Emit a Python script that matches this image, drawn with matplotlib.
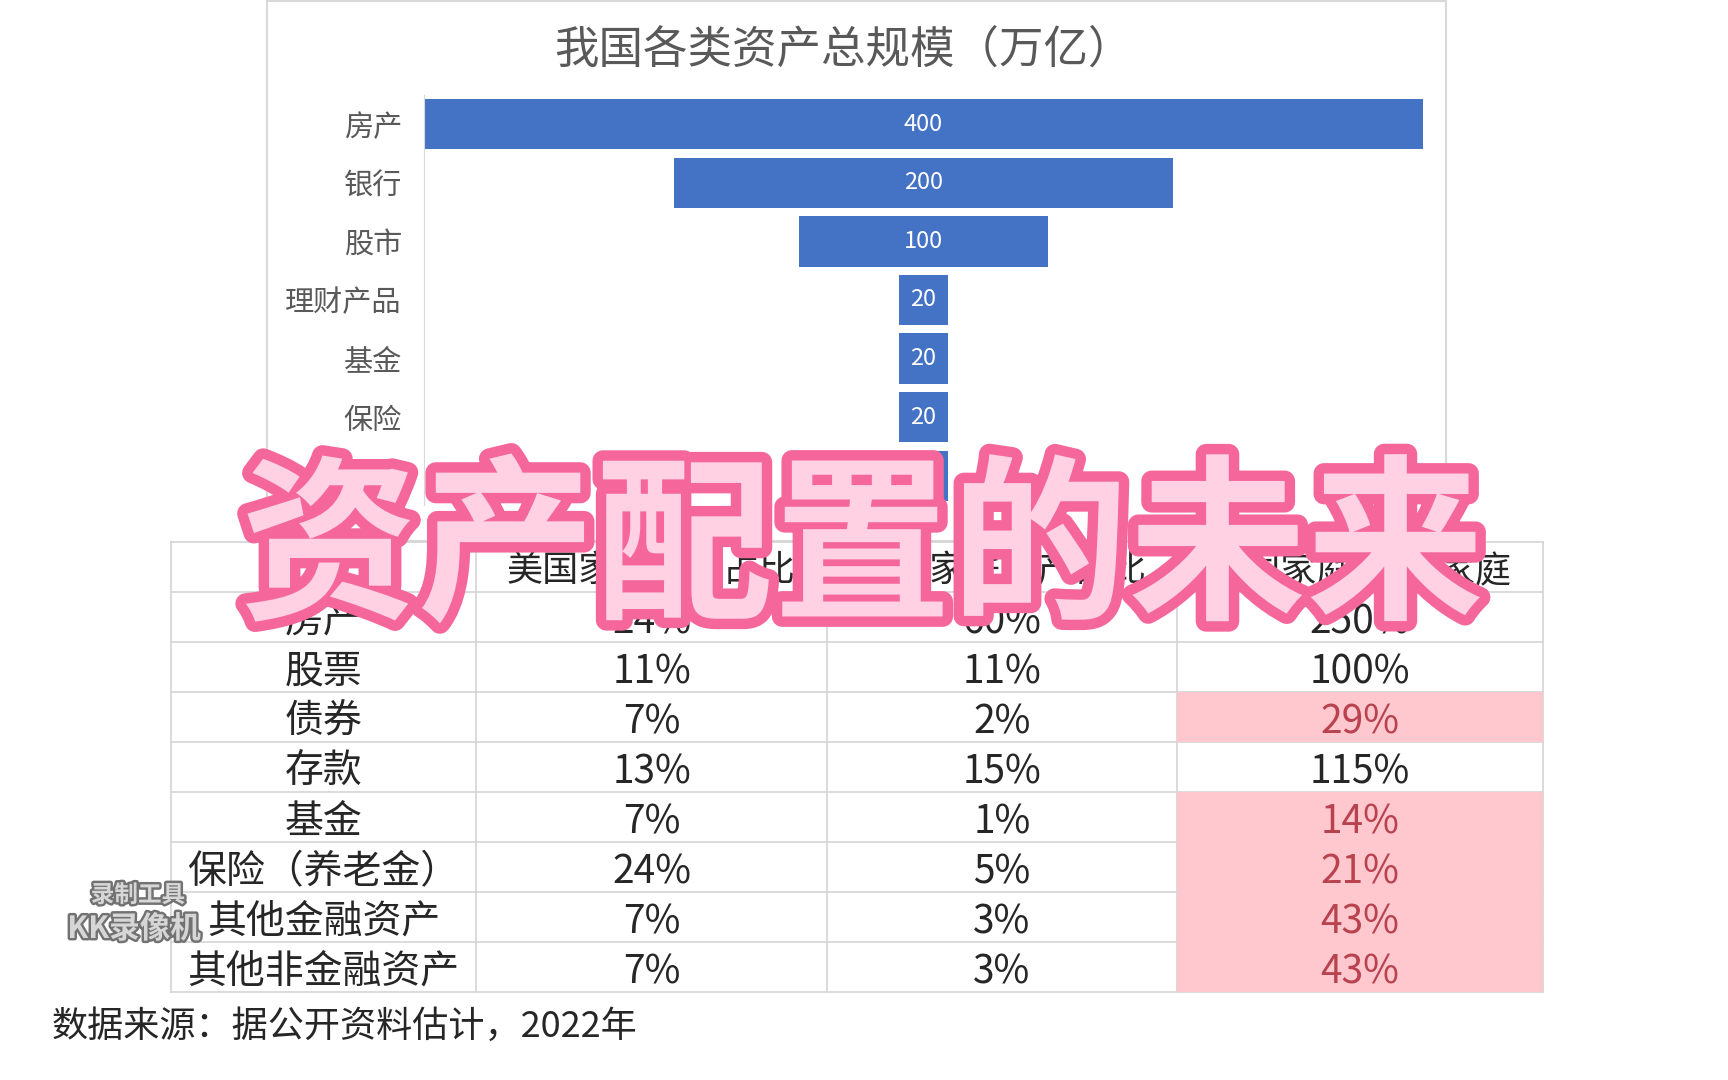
import matplotlib
matplotlib.use('Agg')
import matplotlib.pyplot as plt
import matplotlib.patheffects as pe
from matplotlib.patches import Rectangle

plt.rcParams['font.family'] = ['Noto Sans CJK SC', 'DejaVu Sans']

# 漏斗图数据（万亿）
funnel_cats = ['房产', '银行', '股市', '理财产品', '基金', '保险', '信托']
funnel_vals = [400, 200, 100, 20, 20, 20, 20]

# 表格数据
table_header = ['', '美国家庭资产占比', '中国家庭资产占比', '中国家庭/美国家庭']
row_names = ['房产', '股票', '债券', '存款', '基金', '保险（养老金）', '其他金融资产', '其他非金融资产']
us_share = ['24%', '11%', '7%', '13%', '7%', '24%', '7%', '7%']
cn_share = ['60%', '11%', '2%', '15%', '1%', '5%', '3%', '3%']
cn_vs_us = ['250%', '100%', '29%', '115%', '14%', '21%', '43%', '43%']
highlight = [False, False, True, False, True, True, True, True]

W, H = 1728, 1080


def px(x0, y0, x1, y1):
    # 像素坐标 -> figure 坐标
    return [x0 / W, 1 - y1 / H, (x1 - x0) / W, (y1 - y0) / H]


fig = plt.figure(figsize=(W / 100, H / 100), dpi=100, facecolor='white')

# ---- 漏斗图 ----
ax = fig.add_axes(px(424, 95, 1423, 505))
ax.set_xlim(-200, 200)
ax.set_ylim(len(funnel_cats) - 0.5, -0.5)
ypos = list(range(len(funnel_cats)))
bars = ax.barh(ypos, funnel_vals, left=[-v / 2 for v in funnel_vals],
               height=0.86, color='#4472c4')
ax.bar_label(bars, labels=[str(v) for v in funnel_vals], label_type='center',
             color='white', fontsize=17)
ax.set_yticks(ypos)
ax.set_yticklabels(funnel_cats, fontsize=21, color='#595959')
ax.tick_params(axis='y', length=0, pad=16)
ax.set_xticks([])
for s in ['top', 'right', 'bottom']:
    ax.spines[s].set_visible(False)
ax.spines['left'].set_color('#d9d9d9')
ax.patch.set_alpha(0)

# ---- 像素坐标覆盖层 ----
ov = fig.add_axes([0, 0, 1, 1], zorder=5)
ov.set_xlim(0, W)
ov.set_ylim(H, 0)
ov.axis('off')
ov.patch.set_alpha(0)

# 图表外框和标题
ov.add_patch(Rectangle((267, 1), 1179, 540, fc='none', ec='#d9d9d9', lw=1.5))
ov.text(843, 50, '我国各类资产总规模（万亿）', fontsize=32, color='#595959',
        ha='center', va='center')

# 表格
col_x = [171, 476, 827, 1177, 1543]
top, row_h = 542, 50
n_rows = len(row_names) + 1
bottom = top + n_rows * row_h
ov.add_patch(Rectangle((col_x[0], top), col_x[-1] - col_x[0], bottom - top,
                       fc='white', ec='none', zorder=1))
for i in range(n_rows + 1):
    y = top + i * row_h
    ov.plot([col_x[0], col_x[-1]], [y, y], color='#d4d4d4', lw=1.2, zorder=2)
for x in col_x:
    ov.plot([x, x], [top, bottom], color='#d4d4d4', lw=1.2, zorder=2)

for j, h in enumerate(table_header):
    cx = (col_x[j] + col_x[j + 1]) / 2
    ov.text(cx, top + row_h / 2 + 4, h, fontsize=26, color='#262626',
            ha='center', va='center', zorder=4)

for i, name in enumerate(row_names):
    y0 = top + (i + 1) * row_h
    cy = y0 + row_h / 2 + 5
    vals = [name, us_share[i], cn_share[i], cn_vs_us[i]]
    for j, v in enumerate(vals):
        cx = (col_x[j] + col_x[j + 1]) / 2
        color = '#262626'
        if j == 3 and highlight[i]:
            ov.add_patch(Rectangle((col_x[3], y0), col_x[4] - col_x[3], row_h,
                                   fc='#ffc7ce', ec='none', zorder=3))
            color = '#b8424e'
        ov.text(cx, cy, v, fontsize=28, color=color, ha='center', va='center', zorder=4)

# 数据来源
ov.text(52, 1027, '数据来源：据公开资料估计，2022年', fontsize=26, color='#262626',
        ha='left', va='center')

# 录屏水印
wm_fx = [pe.withStroke(linewidth=3.5, foreground='#727272')]
ov.text(138, 895, '录制工具', fontsize=17, fontweight='bold', color='#d6d6d6',
        ha='center', va='center', path_effects=wm_fx, zorder=6)
ov.text(134, 929, 'KK录像机', fontsize=22, fontweight='bold', color='#d6d6d6',
        ha='center', va='center', path_effects=wm_fx, zorder=6)

# 大标题
ov.text(862, 553, '资产配置的未来', fontsize=128, fontweight='heavy', color='#ffd1e3',
        ha='center', va='center', zorder=10,
        path_effects=[pe.Stroke(linewidth=15, foreground='#f5679a', joinstyle='round'),
                      pe.Normal()])

fig.savefig('out.png', dpi=100, facecolor='white')
